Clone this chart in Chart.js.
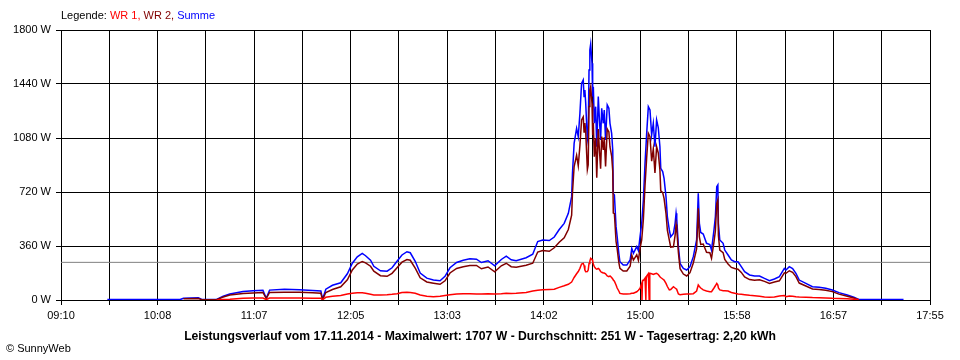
<!DOCTYPE html>
<html>
<head>
<meta charset="utf-8">
<title>Leistungsverlauf 17.11.2014</title>
<script src="https://cdn.jsdelivr.net/npm/chart.js@4.4.1/dist/chart.umd.min.js"></script>
<style>
  html, body { margin: 0; padding: 0; background: #fff; }
  #wrap { position: relative; width: 960px; height: 360px; }
</style>
</head>
<body>
<div id="wrap"><canvas id="myChart" width="960" height="360"></canvas></div>
<script>
// measured times (HH:MM or HH:MM:SS), one entry per sample
const times = [
  '09:38', '10:22', '10:24', '10:33', '10:35', '10:44', '10:48', '10:52', '11:00', '11:06',
  '11:12', '11:14', '11:16', '11:25', '11:34', '11:42', '11:47', '11:48', '11:50', '11:54',
  '11:59', '12:03', '12:06', '12:09', '12:12', '12:14', '12:17', '12:19', '12:23', '12:27',
  '12:30', '12:33', '12:36', '12:39', '12:41', '12:44', '12:47', '12:51', '12:55', '12:59',
  '13:02', '13:05', '13:09', '13:13', '13:17', '13:21', '13:24', '13:28', '13:32', '13:36',
  '13:39', '13:42', '13:45', '13:51', '13:55', '13:58', '14:01', '14:05', '14:08', '14:11',
  '14:14', '14:16:30', '14:18:30', '14:19', '14:20', '14:21:30', '14:22:30', '14:23:30', '14:24:30', '14:25:30',
  '14:26', '14:26:30', '14:27', '14:28', '14:28:30', '14:29', '14:29:30', '14:30', '14:30:48', '14:31:12',
  '14:31:36', '14:32:12', '14:33', '14:33:40', '14:34:36', '14:35:12', '14:36', '14:36:40', '14:37:36', '14:38:12',
  '14:39', '14:40', '14:41', '14:41:40', '14:42:40', '14:43:20', '14:43:40', '14:44:20', '14:45:20', '14:46',
  '14:47', '14:47:40', '14:49:40', '14:51:50', '14:53:50', '14:54:50', '14:55:50', '14:57:50', '14:58:50', '14:59:50',
  '15:00:50', '15:01:00', '15:01:20', '15:01:50', '15:02:50', '15:03:20', '15:03:35', '15:03:50', '15:04:50', '15:05:20',
  '15:05:35', '15:05:50', '15:06:50', '15:07:50', '15:08:50', '15:09:50', '15:10:50', '15:11:50', '15:12:20', '15:13:30',
  '15:14:20', '15:15:30', '15:16:20', '15:17:30', '15:18:20', '15:20', '15:21', '15:21:36', '15:22', '15:23',
  '15:24', '15:26', '15:28', '15:30', '15:32', '15:34', '15:35', '15:35:40', '15:36:30', '15:38',
  '15:40', '15:42', '15:43', '15:44:30', '15:45:20', '15:46:10', '15:46:50', '15:47:10', '15:48', '15:50',
  '15:51', '15:53', '15:55', '15:57', '15:59', '16:01', '16:03', '16:06', '16:09', '16:12',
  '16:15', '16:18', '16:21', '16:24', '16:27', '16:28', '16:30', '16:32', '16:34', '16:36',
  '16:40', '16:44', '16:48', '16:52', '16:56', '17:00', '17:05', '17:09', '17:12', '17:15',
  '17:39'
];

// WR 1 in W (null = no sample)
const wr1 = [
  null, null, null, null, null, 0, 3, 5, 12, 13,
  13, 3, 13, 13, 13, 12, 12, 2, 18, 25,
  30, 40, 45, 48, 48, 45, 38, 33, 33, 35,
  38, 42, 50, 52, 50, 45, 33, 25, 22, 25,
  30, 35, 40, 42, 42, 40, 40, 42, 40, 42,
  45, 44, 45, 50, 60, 65, 68, 70, 72, 84,
  95, 105, 120, 130, 150, 175, 190, 211, 240, 244,
  230, 200, 189, 190, 200, 244, 260, 278, 270, 260,
  240, 222, 210, 205, 210, 205, 190, 185, 180, 180,
  175, 160, 155, 160, 150, 140, 133, 125, 100, 80,
  60, 44, 40, 40, 42, 45, 45, 55, 65, 78,
  111, 0, 130, 130, 145, 0, 155, 160, 175, 0,
  178, 178, 175, 170, 175, 178, 170, 155, 150, 140,
  133, 111, 90, 67, 70, 89, 80, 75, 70, 40,
  35, 38, 40, 40, 42, 60, 100, 90, 80, 67,
  60, 55, 55, 80, 95, 111, 100, 80, 67, 62,
  62, 60, 50, 45, 40, 38, 35, 31, 28, 25,
  20, 18, 20, 27, 30, 22, 27, 25, 22, 20,
  18, 16, 15, 13, 11, 10, 8, 5, 3, null,
  null
];

// WR 2 in W
const wr2 = [
  null, null, 8, 10, 2, 2, 20, 33, 43, 47,
  50, 10, 50, 52, 52, 48, 45, 3, 50, 70,
  88, 135, 200, 240, 257, 248, 225, 192, 162, 158,
  178, 215, 252, 270, 265, 212, 148, 120, 112, 105,
  128, 180, 210, 222, 230, 230, 208, 220, 188, 228,
  245, 222, 218, 232, 245, 320, 330, 325, 348, 385,
  415, 470, 565, 715, 890, 965, 895, 1030, 1200, 1220,
  1120, 1180, 1120, 870, 900, 1290, 1400, 1422, 1310, 1100,
  1180, 955, 1080, 815, 1140, 1015, 875, 1090, 1000, 1085,
  890, 1140, 1120, 1020, 960, 860, 580, 575, 390, 342,
  250, 211, 193, 193, 225, 299, 266, 301, 265, 344,
  400, null, null, 537, 766, null, null, 951, 1111, null,
  null, 1089, 925, 1008, 847, 1022, 980, 867, 728, 716,
  678, 578, 465, 400, 352, 355, 431, 503, 470, 316,
  209, 173, 160, 182, 247, 340, 611, 421, 370, 373,
  318, 315, 278, 387, 460, 644, 667, 431, 333, 316,
  271, 240, 217, 210, 205, 184, 154, 136, 132, 135,
  124, 111, 120, 128, 181, 178, 195, 185, 156, 113,
  93, 73, 70, 65, 56, 39, 25, 13, 1, null,
  null
];

// Summe in W
const summe = [
  3, 3, 12, 15, 4, 4, 25, 40, 57, 62,
  65, 12, 66, 72, 68, 64, 60, 5, 72, 98,
  115, 175, 245, 288, 310, 295, 265, 225, 195, 192,
  215, 258, 300, 322, 315, 258, 180, 146, 134, 128,
  158, 215, 250, 265, 275, 272, 250, 262, 228, 270,
  292, 268, 262, 282, 305, 390, 400, 396, 420, 470,
  511, 578, 689, 845, 1044, 1144, 1089, 1244, 1444, 1467,
  1356, 1400, 1311, 1067, 1100, 1533, 1667, 1707, 1578, 1356,
  1422, 1178, 1289, 1022, 1356, 1222, 1067, 1278, 1178, 1267,
  1067, 1300, 1278, 1178, 1111, 1000, 711, 700, 489, 422,
  311, 255, 233, 233, 267, 344, 311, 356, 330, 422,
  511, null, null, 667, 911, null, null, 1111, 1289, null,
  null, 1267, 1100, 1178, 1022, 1200, 1150, 1022, 878, 856,
  811, 689, 555, 467, 422, 444, 511, 578, 540, 356,
  244, 211, 200, 222, 289, 400, 711, 511, 450, 440,
  378, 370, 333, 467, 555, 755, 767, 511, 400, 378,
  333, 300, 267, 255, 255, 222, 189, 167, 160, 160,
  144, 129, 140, 155, 211, 200, 222, 210, 178, 133,
  111, 89, 85, 78, 67, 49, 33, 18, 4, 3,
  3
];

const average = 251; // Durchschnitt
const xTickLabels = ['09:10', '10:08', '11:07', '12:05', '13:03', '14:02', '15:00', '15:58', '16:57', '17:55'];
const yTicks = [0, 360, 720, 1080, 1440, 1800];
const seriesNames = ['WR 1', 'WR 2', 'Summe'];
const caption = 'Leistungsverlauf vom 17.11.2014 - Maximalwert: 1707 W - Durchschnitt: 251 W - Tagesertrag: 2,20 kWh';
const copyright = '\u00A9 SunnyWeb';

const FONT = '"Liberation Sans", Arial, sans-serif';
const colors = ['#ff0000', '#800000', '#0000ff'];

const toMin = (t) => {
  const p = t.split(':').map(Number);
  return p[0] * 60 + p[1] + (p[2] || 0) / 60;
};

const xMin = toMin(xTickLabels[0]);
const xMax = toMin(xTickLabels[xTickLabels.length - 1]);
// one grid line between every labelled tick
const xSteps = (xTickLabels.length - 1) * 2;
const xTickValues = [];
for (let i = 0; i <= xSteps; i++) xTickValues.push(xMin + (xMax - xMin) * i / xSteps);

const toPoints = (vals) => times.map((t, i) => ({ x: toMin(t), y: vals[i] }));

// texts outside the plot: legend line, caption, copyright
const textPlugin = {
  id: 'texts',
  afterDraw(chart) {
    const ctx = chart.ctx;
    const area = chart.chartArea;
    ctx.save();
    ctx.textBaseline = 'middle';
    ctx.font = '11px ' + FONT;
    let x = area.left;
    const parts = [{ text: 'Legende: ', color: '#000' }];
    chart.data.datasets.filter(d => d.label).forEach((d, i, arr) => {
      parts.push({ text: d.label + (i < arr.length - 1 ? ', ' : ''), color: d.borderColor });
    });
    parts.forEach(p => {
      ctx.fillStyle = p.color;
      ctx.fillText(p.text, x, 16);
      x += ctx.measureText(p.text).width;
    });

    ctx.fillStyle = '#000';
    ctx.font = 'bold 12.2px ' + FONT;
    ctx.textAlign = 'center';
    ctx.fillText(caption, 480, 337);

    ctx.font = '11px ' + FONT;
    ctx.textAlign = 'left';
    ctx.fillText(copyright, 6, 349);
    ctx.restore();
  }
};

const ctx = document.getElementById('myChart').getContext('2d');
new Chart(ctx, {
  type: 'line',
  data: {
    datasets: [
      {
        label: seriesNames[0],
        data: toPoints(wr1),
        borderColor: colors[0],
        borderWidth: 1.5,
        order: 1
      },
      {
        label: seriesNames[1],
        data: toPoints(wr2),
        borderColor: colors[1],
        borderWidth: 1.5,
        order: 2
      },
      {
        label: seriesNames[2],
        data: toPoints(summe),
        borderColor: colors[2],
        borderWidth: 1.5,
        order: 3
      },
      {
        // average line
        label: '',
        data: [{ x: xMin, y: average }, { x: xMax, y: average }],
        borderColor: '#808080',
        borderWidth: 1,
        order: 4
      }
    ]
  },
  options: {
    responsive: false,
    animation: false,
    spanGaps: true,
    elements: {
      point: { radius: 0 },
      line: { tension: 0, fill: false }
    },
    layout: { padding: { top: 30, right: 30, left: 0, bottom: 0 } },
    plugins: {
      legend: { display: false },
      tooltip: { enabled: false },
      title: { display: false }
    },
    scales: {
      x: {
        type: 'linear',
        min: xMin,
        max: xMax,
        afterBuildTicks: (axis) => { axis.ticks = xTickValues.map(v => ({ value: v })); },
        afterFit: (axis) => { axis.height = 60; },
        ticks: {
          autoSkip: false,
          maxRotation: 0,
          padding: 4,
          color: '#000',
          font: { family: FONT, size: 11 },
          callback: (v, i) => (i % 2 === 0 ? xTickLabels[i / 2] : '')
        },
        grid: { color: '#000', lineWidth: 1, tickLength: 5 },
        border: { color: '#000', width: 1 }
      },
      y: {
        min: yTicks[0],
        max: yTicks[yTicks.length - 1],
        afterBuildTicks: (axis) => { axis.ticks = yTicks.map(v => ({ value: v })); },
        afterFit: (axis) => { axis.width = 61; },
        ticks: {
          padding: 5,
          color: '#000',
          font: { family: FONT, size: 11 },
          callback: (v) => v + ' W'
        },
        grid: { color: '#000', lineWidth: 1, tickLength: 5 },
        border: { color: '#000', width: 1 }
      }
    }
  },
  plugins: [textPlugin]
});
</script>
</body>
</html>
